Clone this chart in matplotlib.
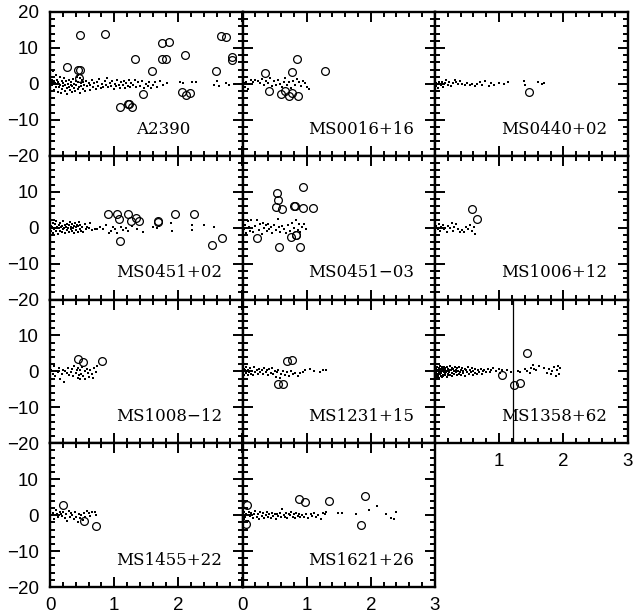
import matplotlib
matplotlib.use("Agg")
import matplotlib.pyplot as plt
from matplotlib.ticker import MultipleLocator

# ---------------- data ----------------
panel_names = ["A2390", "MS0016+16", "MS0440+02", "MS0451+02", "MS0451\u221203",
               "MS1006+12", "MS1008\u221212", "MS1231+15", "MS1358+62",
               "MS1455+22", "MS1621+26"]

a2390_dots = [(0.01,0.5),(0.02,0.2),(0.03,1.0),(0.03,-0.3),(0.04,0.6),(0.05,3.5),(0.05,0.0),(0.06,0.8),(0.07,-1.8),(0.08,0.3),(0.09,2.5),(0.10,-0.8),(0.11,1.2),(0.12,-2.3),(0.13,0.4),(0.14,-1.0),(0.15,1.8),(0.16,-0.4),(0.17,-2.6),(0.18,0.9),(0.19,-1.4),(0.20,0.2),(0.21,-0.7),(0.22,1.5),(0.23,-2.0),(0.24,-0.2),(0.25,0.7),(0.26,-1.2),(0.27,-2.7),(0.28,0.1),(0.29,-0.9),(0.30,1.1),(0.31,-1.6),(0.32,-0.3),(0.33,0.5),(0.34,-2.2),(0.35,-0.6),(0.36,1.4),(0.37,-1.1),(0.38,0.0),(0.39,-1.9),(0.40,0.8),(0.41,-0.4),(0.42,2.0),(0.43,-1.3),(0.44,2.6),(0.44,0.4),(0.45,-0.8),(0.46,1.6),(0.47,-2.4),(0.48,0.2),(0.49,-0.5),(0.50,1.0),(0.51,-1.5),(0.52,0.5),(0.53,-0.2),(0.55,-2.0),(0.56,0.9),(0.58,-0.7),(0.60,0.3),(0.62,-1.7),(0.63,-0.4),(0.65,1.1),(0.67,-1.0),(0.69,0.2),(0.71,-1.3),(0.73,0.6),(0.75,-0.6),(0.77,1.4),(0.79,-1.2),(0.81,0.0),(0.83,-0.9),(0.85,0.9),(0.87,-0.3),(0.89,1.7),(0.91,-1.0),(0.93,0.3),(0.95,-0.5),(0.97,0.7),(0.99,-1.4),(1.01,0.1),(1.03,-0.6),(1.05,1.2),(1.07,-0.2),(1.09,-1.1),(1.11,0.5),(1.13,-0.4),(1.15,0.9),(1.17,-1.2),(1.19,0.2),(1.21,-0.6),(1.23,1.0),(1.25,-0.9),(1.27,0.3),(1.30,-0.3),(1.32,1.2),(1.34,-1.0),(1.37,0.4),(1.40,-0.5),(1.43,0.8),(1.46,-1.2),(1.49,0.0),(1.52,-0.7),(1.55,0.6),(1.58,-1.1),(1.61,-0.2),(1.64,0.4),(1.67,-0.9),(1.71,0.8),(1.76,-0.4),(1.82,0.3),(2.02,0.5),(2.07,0.3),(2.22,0.6),(2.28,0.5),(2.55,-0.3),(2.60,0.9),(2.63,-0.6),(2.74,0.2),(2.79,-0.3),(2.88,-0.1),(2.94,-0.1)]
a2390_circ = [(0.27,4.8),(0.46,13.5),(0.44,3.8),(0.47,4.0),(0.45,1.6),(0.85,14.0),(1.09,-6.3),(1.21,-5.5),(1.23,-5.5),(1.28,-6.3),(1.33,6.9),(1.45,-2.9),(1.59,3.7),(1.74,11.5),(1.86,11.6),(1.74,7.0),(1.81,7.0),(2.10,8.1),(2.05,-2.3),(2.12,-3.0),(2.18,-2.6),(2.59,3.6),(2.67,13.3),(2.74,13.0),(2.83,7.6),(2.83,6.7)]

ms0016_dots = [(0.02,0.3),(0.04,-0.8),(0.06,0.5),(0.08,-1.5),(0.10,0.1),(0.13,1.0),(0.16,0.6),(0.20,1.1),(0.24,0.8),(0.28,0.3),(0.31,1.4),(0.34,-0.4),(0.37,0.9),(0.40,0.2),(0.43,1.6),(0.46,-0.5),(0.49,0.7),(0.52,-0.2),(0.55,1.2),(0.58,0.0),(0.61,-0.9),(0.64,0.6),(0.67,1.5),(0.70,-0.3),(0.73,0.4),(0.76,-1.1),(0.79,0.8),(0.82,-0.2),(0.85,1.3),(0.88,0.5),(0.91,-0.6),(0.94,0.9),(0.97,0.2),(1.00,-0.9),(1.03,-1.5)]
ms0016_circ = [(0.35,3.0),(0.42,-2.1),(0.60,-2.9),(0.67,-1.9),(0.72,-3.4),(0.77,-2.4),(0.77,3.2),(0.85,6.8),(0.87,-3.4),(1.29,3.6)]

ms0440_dots = [(0.01,0.3),(0.02,-0.5),(0.04,0.1),(0.05,-1.2),(0.07,0.4),(0.09,-0.2),(0.11,0.6),(0.12,-0.8),(0.15,0.2),(0.17,1.0),(0.20,-0.3),(0.22,0.5),(0.25,-0.6),(0.28,0.2),(0.31,1.2),(0.33,0.4),(0.36,-0.1),(0.39,0.9),(0.42,0.0),(0.46,-0.4),(0.50,0.3),(0.54,-0.2),(0.58,0.1),(0.62,-0.6),(0.66,0.0),(0.70,0.6),(0.74,-0.3),(0.78,0.8),(0.84,-0.5),(0.88,0.2),(0.92,-0.2),(1.00,0.3),(1.08,-0.1),(1.13,0.6),(1.38,0.8),(1.41,-0.2),(1.60,0.4),(1.66,0.0),(1.70,0.2)]
ms0440_circ = [(1.47,-2.3)]

ms0451p_dots = [(0.01,0.5),(0.02,-0.8),(0.03,0.2),(0.04,1.2),(0.05,-1.5),(0.06,0.0),(0.07,-0.4),(0.08,0.9),(0.09,-1.0),(0.10,1.8),(0.11,0.3),(0.12,-1.8),(0.13,-0.2),(0.14,0.7),(0.15,-0.9),(0.16,1.4),(0.17,0.1),(0.18,-1.3),(0.19,0.5),(0.20,-0.5),(0.21,1.9),(0.22,-0.1),(0.23,0.8),(0.24,-1.6),(0.25,0.3),(0.26,-0.7),(0.27,1.1),(0.28,0.0),(0.29,-1.2),(0.30,0.6),(0.31,1.6),(0.32,-0.4),(0.33,0.2),(0.34,-1.0),(0.35,1.0),(0.36,-0.2),(0.37,0.5),(0.38,-1.4),(0.39,1.3),(0.40,0.1),(0.41,-0.6),(0.42,0.8),(0.43,-1.1),(0.44,0.4),(0.45,1.5),(0.46,-0.3),(0.47,0.7),(0.48,-0.8),(0.50,0.2),(0.52,-1.3),(0.54,0.9),(0.56,-0.5),(0.58,0.3),(0.60,-0.2),(0.63,1.2),(0.66,-0.6),(0.70,-0.4),(0.74,-0.5),(0.78,0.3),(0.82,-0.4),(0.87,0.6),(0.92,-1.6),(0.95,-0.9),(0.98,0.2),(1.02,-0.5),(1.05,-1.4),(1.10,0.3),(1.14,-0.6),(1.18,0.0),(1.22,-0.8),(1.28,0.5),(1.35,-0.3),(1.45,-1.2),(1.60,0.3),(1.66,-0.2),(1.70,0.4),(1.88,1.3),(1.90,-0.9),(2.21,-0.7),(2.22,0.6),(2.40,0.7),(2.55,0.2)]
ms0451p_circ = [(0.91,3.7),(1.04,3.7),(1.08,2.3),(1.09,-3.7),(1.22,3.7),(1.26,1.9),(1.34,2.6),(1.39,1.9),(1.68,1.9),(1.68,1.6),(1.95,3.7),(2.25,3.7),(2.52,-4.9),(2.68,-3.0)]

ms0451m_dots = [(0.02,-0.5),(0.04,0.8),(0.06,-1.6),(0.08,1.9),(0.10,0.2),(0.12,-0.9),(0.14,2.0),(0.17,-1.3),(0.20,0.5),(0.23,2.2),(0.26,-0.6),(0.28,0.9),(0.30,-1.8),(0.32,1.4),(0.34,-0.2),(0.36,0.6),(0.38,-1.0),(0.40,1.1),(0.42,-0.4),(0.44,0.3),(0.46,-1.5),(0.49,0.8),(0.52,-0.7),(0.55,2.5),(0.57,0.1),(0.59,-1.2),(0.62,0.4),(0.65,-0.3),(0.68,-1.4),(0.71,0.6),(0.74,-0.9),(0.77,1.3),(0.80,-0.1),(0.83,2.2),(0.86,-0.6),(0.88,0.9),(0.90,-1.1),(0.93,0.3),(0.96,1.0),(0.99,-0.4)]
ms0451m_circ = [(0.23,-3.0),(0.54,9.7),(0.56,7.6),(0.52,5.7),(0.61,5.3),(0.57,-5.5),(0.75,-2.6),(0.81,6.0),(0.82,6.0),(0.84,-2.0),(0.83,-2.0),(0.90,-5.3),(0.94,11.3),(0.95,5.5),(1.10,5.5)]

ms1006_dots = [(0.02,0.4),(0.04,-0.3),(0.06,1.0),(0.08,-0.8),(0.10,0.2),(0.12,0.7),(0.14,-0.5),(0.16,0.0),(0.18,-1.2),(0.21,0.5),(0.24,-0.2),(0.26,1.2),(0.28,-0.9),(0.30,0.3),(0.33,0.9),(0.36,-0.4),(0.39,-1.1),(0.42,-0.6),(0.45,-1.3),(0.48,0.2),(0.52,-0.5),(0.55,0.6),(0.58,-0.9),(0.61,0.3),(0.63,-1.9)]
ms1006_circ = [(0.58,5.1),(0.66,2.3)]

ms1008_dots = [(0.02,0.5),(0.04,-0.6),(0.06,1.5),(0.08,-1.3),(0.10,0.2),(0.12,-0.3),(0.14,0.9),(0.16,-2.2),(0.18,-0.8),(0.20,0.4),(0.22,-3.0),(0.24,0.0),(0.26,-0.5),(0.28,1.0),(0.30,-0.9),(0.32,-0.2),(0.34,0.6),(0.36,-1.4),(0.38,1.6),(0.40,-0.4),(0.42,0.3),(0.43,-1.8),(0.44,1.0),(0.45,-0.9),(0.46,-2.0),(0.47,0.5),(0.48,-0.6),(0.50,1.2),(0.52,-1.2),(0.54,0.2),(0.55,-2.1),(0.57,0.8),(0.59,-0.4),(0.61,-1.5),(0.63,0.5),(0.65,-0.8),(0.67,-1.9),(0.69,0.9),(0.71,-0.3),(0.73,1.6)]
ms1008_circ = [(0.43,3.5),(0.52,2.6),(0.81,3.0)]

ms1231_dots = [(0.01,-0.3),(0.02,0.8),(0.03,-0.9),(0.04,0.3),(0.05,-0.5),(0.06,1.1),(0.07,0.0),(0.08,-1.0),(0.09,0.5),(0.10,-0.2),(0.12,0.9),(0.13,-0.6),(0.15,0.2),(0.16,-0.9),(0.18,1.2),(0.20,-0.3),(0.22,0.4),(0.24,-0.8),(0.26,0.7),(0.28,-0.1),(0.30,0.5),(0.32,-0.7),(0.34,1.0),(0.36,-0.2),(0.38,0.3),(0.40,-1.1),(0.42,0.6),(0.44,-0.4),(0.46,0.9),(0.48,-0.8),(0.50,0.1),(0.52,-1.5),(0.54,-0.3),(0.56,0.5),(0.58,-1.8),(0.60,-0.6),(0.63,0.2),(0.66,-1.0),(0.69,-0.2),(0.72,-1.3),(0.75,0.1),(0.78,-0.8),(0.82,-0.4),(0.86,-1.2),(0.90,-0.5),(0.94,-0.1),(0.98,0.3),(1.05,0.6),(1.12,0.2),(1.20,-0.1),(1.25,0.3),(1.30,0.4)]
ms1231_circ = [(0.69,2.8),(0.77,3.2),(0.56,-3.5),(0.63,-3.5)]

ms1358_dots = [(0.01,0.2),(0.01,-1.0),(0.02,0.8),(0.02,-0.5),(0.03,1.2),(0.03,-1.6),(0.04,0.0),(0.04,-0.8),(0.05,0.5),(0.05,-1.3),(0.06,1.0),(0.06,-0.3),(0.07,-1.9),(0.07,0.3),(0.08,-0.7),(0.08,1.4),(0.09,-0.1),(0.09,-1.2),(0.10,0.6),(0.10,-0.5),(0.11,-1.6),(0.11,1.1),(0.12,0.1),(0.12,-0.9),(0.13,0.7),(0.13,-1.4),(0.14,-0.2),(0.14,1.3),(0.15,-0.6),(0.15,0.4),(0.16,-1.1),(0.16,0.9),(0.17,-0.3),(0.18,1.2),(0.18,-1.5),(0.19,0.2),(0.20,-0.7),(0.20,0.8),(0.21,-1.0),(0.22,0.5),(0.22,-0.2),(0.23,1.4),(0.24,-0.9),(0.25,0.3),(0.26,-0.4),(0.26,1.0),(0.27,-1.3),(0.28,0.6),(0.29,0.0),(0.30,-0.8),(0.31,1.2),(0.32,-0.3),(0.33,0.4),(0.34,-1.1),(0.35,0.9),(0.36,0.1),(0.37,-0.6),(0.38,1.3),(0.39,-0.2),(0.40,0.5),(0.41,-0.9),(0.42,1.0),(0.43,0.0),(0.44,-0.5),(0.46,0.8),(0.47,-1.2),(0.48,0.3),(0.50,-0.3),(0.51,1.1),(0.53,-0.7),(0.54,0.4),(0.56,-0.1),(0.57,0.9),(0.59,-1.0),(0.60,0.2),(0.62,-0.4),(0.63,0.7),(0.65,-0.8),(0.67,0.3),(0.69,-0.2),(0.71,0.8),(0.73,-0.6),(0.75,0.1),(0.77,0.5),(0.79,-0.3),(0.82,0.6),(0.85,-0.2),(0.88,0.4),(0.91,0.9),(0.95,0.0),(0.99,0.6),(1.02,-0.4),(1.05,0.3),(1.12,0.5),(1.18,-0.2),(1.30,0.1),(1.32,-0.3),(1.40,0.6),(1.44,0.2),(1.48,-0.5),(1.50,1.0),(1.52,1.8),(1.55,0.8),(1.58,0.4),(1.62,1.4),(1.70,0.9),(1.74,-0.4),(1.78,0.7),(1.80,-0.8),(1.82,0.2),(1.85,1.1),(1.88,-1.4),(1.90,0.3),(1.92,1.6),(1.94,-0.6),(1.95,0.9)]
ms1358_circ = [(1.43,5.0),(1.04,-1.1),(1.23,-3.9),(1.32,-3.3)]
ms1358_vline = 1.22

ms1455_dots = [(0.05,0.5),(0.07,-1.0),(0.09,1.5),(0.11,0.2),(0.13,-0.4),(0.15,1.0),(0.17,0.4),(0.19,-0.3),(0.21,0.8),(0.23,-0.8),(0.25,0.3),(0.27,-1.5),(0.29,1.2),(0.31,-0.6),(0.33,0.6),(0.35,-0.1),(0.37,-1.2),(0.39,0.9),(0.41,-0.4),(0.43,-2.0),(0.45,0.4),(0.47,-0.9),(0.49,0.1),(0.51,-1.3),(0.53,0.7),(0.55,-0.4),(0.57,1.2),(0.60,0.5),(0.63,-0.2),(0.66,1.0),(0.70,0.8),(0.71,0.1)]
ms1455_circ = [(0.20,2.7),(0.53,-1.6),(0.72,-3.0)]

ms1621_dots = [(0.01,0.3),(0.02,-1.2),(0.03,0.9),(0.04,-0.4),(0.06,0.4),(0.08,-1.6),(0.10,1.0),(0.12,-0.3),(0.14,0.6),(0.16,-0.8),(0.18,0.2),(0.20,1.2),(0.22,-0.5),(0.24,0.3),(0.26,-1.0),(0.28,0.8),(0.30,-0.2),(0.32,0.5),(0.34,-0.7),(0.36,0.1),(0.38,1.0),(0.40,-0.4),(0.42,0.3),(0.44,-0.9),(0.46,0.6),(0.48,-0.3),(0.50,0.2),(0.52,-1.1),(0.54,0.4),(0.56,-0.2),(0.58,0.7),(0.60,-0.6),(0.62,1.6),(0.64,0.1),(0.66,-0.4),(0.68,0.5),(0.70,-0.8),(0.72,0.3),(0.74,-0.1),(0.76,0.8),(0.78,-0.5),(0.80,0.2),(0.82,-0.9),(0.84,0.6),(0.86,-0.2),(0.88,0.4),(0.90,-0.6),(0.93,0.1),(0.96,-0.4),(0.99,0.3),(1.02,-0.8),(1.06,0.2),(1.08,-0.3),(1.12,0.5),(1.15,-0.6),(1.18,0.0),(1.22,-1.0),(1.25,0.6),(1.28,0.2),(1.30,1.0),(1.49,0.5),(1.55,0.5),(1.77,0.4),(1.97,1.4),(2.09,2.5),(2.23,0.2),(2.31,-0.9),(2.36,-1.2),(2.39,1.0)]
ms1621_circ = [(0.07,2.8),(0.06,-2.5),(0.88,4.4),(0.97,3.6),(1.35,4.0),(1.91,5.2),(1.84,-2.8)]

dots_all = [a2390_dots, ms0016_dots, ms0440_dots, ms0451p_dots, ms0451m_dots,
            ms1006_dots, ms1008_dots, ms1231_dots, ms1358_dots, ms1455_dots, ms1621_dots]
circ_all = [a2390_circ, ms0016_circ, ms0440_circ, ms0451p_circ, ms0451m_circ,
            ms1006_circ, ms1008_circ, ms1231_circ, ms1358_circ, ms1455_circ, ms1621_circ]

x_ticks = [0, 1, 2, 3]
y_ticks = [-20, -10, 0, 10, 20]

# ---------------- figure ----------------
W, H = 634, 613
fig = plt.figure(figsize=(W / 100, H / 100), dpi=100)

left_px = [50, 242.5, 435]
col_w = 192.5
top_px = 12
row_h = 143.75

tick_font = dict(family="Liberation Sans", size=13.5)

def fmt(v):
    return str(v).replace("-", "\u2212")

for i, name in enumerate(panel_names):
    r, c = divmod(i, 3)
    l = left_px[c] / W
    b = 1 - (top_px + (r + 1) * row_h) / H
    ax = fig.add_axes([l, b, col_w / W, row_h / H])
    ax.set_xlim(0, 3)
    ax.set_ylim(-20, 20)
    ax.xaxis.set_major_locator(MultipleLocator(1))
    ax.xaxis.set_minor_locator(MultipleLocator(0.2))
    ax.yaxis.set_major_locator(MultipleLocator(10))
    ax.yaxis.set_minor_locator(MultipleLocator(2))
    ax.tick_params(which="both", direction="in", top=True, right=True, width=1.4)
    ax.tick_params(which="major", length=7.5)
    ax.tick_params(which="minor", length=3.8)
    ax.tick_params(axis="y", pad=8)
    ax.tick_params(axis="x", pad=7)
    for s in ax.spines.values():
        s.set_linewidth(1.7)

    ax.set_yticks(y_ticks)
    if c == 0:
        ylabels = [fmt(v) if (r == 0 or v != 20) else "" for v in y_ticks]
        ax.set_yticklabels(ylabels, fontdict=tick_font)
    else:
        ax.set_yticklabels([])
    ax.set_xticks(x_ticks)
    show_x = (r == 3) or (r == 2 and c == 2)
    if show_x:
        if c == 0:
            xl = [fmt(v) if v != 3 else "" for v in x_ticks]
        elif c == 2:
            xl = [fmt(v) if v != 0 else "" for v in x_ticks]
        else:
            xl = [fmt(v) for v in x_ticks]
        ax.set_xticklabels(xl, fontdict=tick_font)
    else:
        ax.set_xticklabels([])

    d = dots_all[i]
    ax.plot([p[0] for p in d], [p[1] for p in d], linestyle="none", marker="s",
            markersize=1.6, markeredgewidth=0, color="black")
    cc = circ_all[i]
    ax.plot([p[0] for p in cc], [p[1] for p in cc], linestyle="none", marker="o",
            markersize=5.6, markerfacecolor="none", markeredgecolor="black",
            markeredgewidth=0.9)
    if name == "MS1358+62":
        ax.axvline(ms1358_vline, color="black", linewidth=0.9)

    lx = 1.34 if i == 0 else 1.03
    ax.text(lx, -12.6, name, ha="left", va="center", family="DejaVu Serif", fontsize=12)

fig.savefig("out.png", dpi=100)
